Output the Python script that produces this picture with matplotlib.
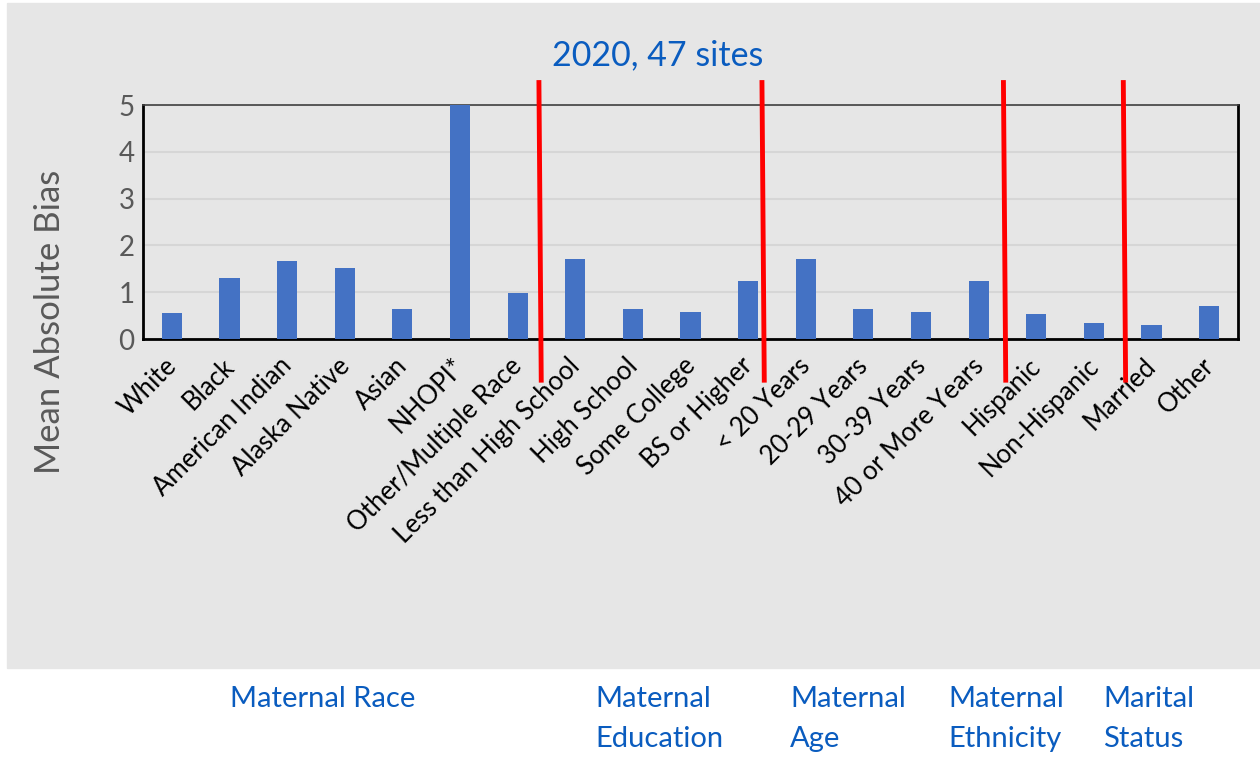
import matplotlib.pyplot as plt
from matplotlib.patches import Rectangle
from matplotlib.transforms import ScaledTranslation

plt.rcParams['font.family'] = ['Lato', 'DejaVu Sans']

categories = ['White', 'Black', 'American Indian', 'Alaska Native', 'Asian', 'NHOPI*',
              'Other/Multiple Race', 'Less than High School', 'High School', 'Some College',
              'BS or Higher', '< 20 Years', '20-29 Years', '30-39 Years', '40 or More Years',
              'Hispanic', 'Non-Hispanic', 'Married', 'Other']
bias = [0.56, 1.31, 1.67, 1.52, 0.64, 5.0, 0.99, 1.70, 0.64, 0.58,
        1.24, 1.70, 0.64, 0.58, 1.24, 0.54, 0.34, 0.30, 0.71]
# group separators, in category units
dividers = [6.39, 10.26, 14.45, 16.53]
group_names = ['Maternal Race', 'Maternal\nEducation', 'Maternal\nAge',
               'Maternal\nEthnicity', 'Marital\nStatus']
group_x = [230, 595, 790, 948, 1103]  # left edge, pixels

blue = '#4472C4'
text_blue = '#0A5CBF'
panel = '#E6E6E6'

fig = plt.figure(figsize=(12.6, 7.61), dpi=100)
bg = Rectangle((7/1260, 1-668/761), 1 - 7/1260, (668-3)/761,
               transform=fig.transFigure, color=panel, zorder=-10)
fig.patches.append(bg)

ax = fig.add_axes([143/1260, 1-339/761, (1238-143)/1260, (339-105)/761])
ax.set_facecolor(panel)
x = range(len(categories))
ax.bar(x, bias, width=0.35, color=blue, zorder=3)
ax.set_xlim(-0.5, len(categories) - 0.5)
ax.set_ylim(0, 5)
ax.set_yticks(range(6))
ax.yaxis.grid(True, color='#D6D6D6', linewidth=1.5, zorder=0)
ax.tick_params(axis='y', labelsize=20, labelcolor='#595959', length=0, pad=6)
ax.tick_params(axis='x', length=0, pad=3)
ax.set_xticks(list(x))
ax.set_xticklabels(categories, rotation=45, ha='right', rotation_mode='anchor',
                   fontsize=18.5, color='black')
# nudge labels down-left a bit, like the original
shift = ScaledTranslation(-0.08, -0.10, fig.dpi_scale_trans)
for lbl in ax.get_xticklabels():
    lbl.set_transform(lbl.get_transform() + shift)
for side in ['left', 'bottom', 'right']:
    ax.spines[side].set_color('black')
    ax.spines[side].set_linewidth(2)
ax.spines['top'].set_color('#404040')
ax.spines['top'].set_linewidth(1.2)

for d in dividers:
    ax.plot([d - 0.02, d + 0.02], [5.48, -0.88], color='#FF0000', linewidth=3.5,
            clip_on=False, zorder=5)

fig.text(50/1260, 1-322/761, 'Mean Absolute Bias', rotation=90, ha='center',
         va='center', fontsize=25, color='#595959')
fig.text(658/1260, 1-55/761, '2020, 47 sites', ha='center', va='center',
         fontsize=24.5, color=text_blue)
for name, gx in zip(group_names, group_x):
    fig.text(gx/1260, 1-686/761, name, ha='left', va='top', fontsize=21,
             color=text_blue, linespacing=1.65)

fig.savefig('out.png', dpi=100)
